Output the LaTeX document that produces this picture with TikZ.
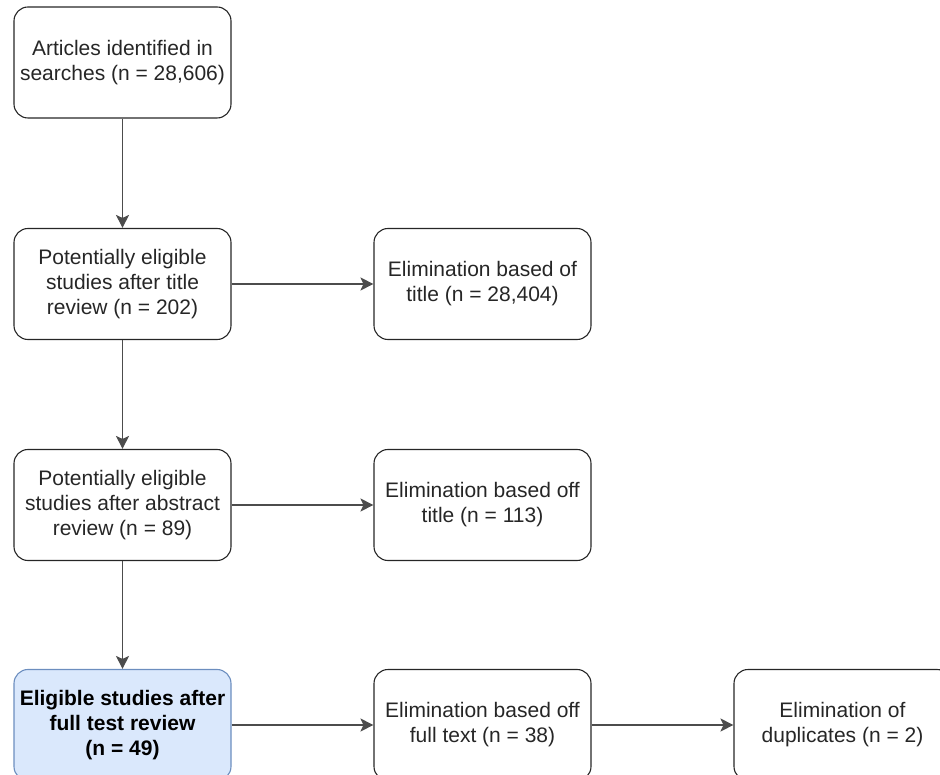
\documentclass[tikz,border=0pt]{standalone}
\usepackage{fontspec}
\setmainfont{Liberation Sans}
\usetikzlibrary{arrows.meta, positioning}
\definecolor{finalfill}{HTML}{DAE8FC}
\definecolor{finaldraw}{HTML}{6C8EBF}

\begin{document}
\begin{tikzpicture}[x=1pt,y=-1pt,
  box/.style={draw=black!85, line width=1.1pt, rounded corners=14pt, minimum width=217pt, minimum height=111pt, inner sep=2pt, align=center, text=black!85, font=\fontsize{21}{25}\selectfont},
  finalbox/.style={box, draw=finaldraw, fill=finalfill, text=black, font=\fontsize{21}{25}\selectfont\bfseries},
  flow/.style={draw=black!70, line width=1.3pt, -{Stealth[length=13pt,width=13pt,inset=3pt]}}]
\useasboundingbox (0,0) rectangle (940,775);
% Left column
\node[box] (search) at (122.5,62.5) {Articles identified in\\searches (n = 28,606)};
\node[box] (title) at (122.5,284) {Potentially eligible\\studies after title\\review (n = 202)};
\node[box] (abstract) at (122.5,505) {Potentially eligible\\studies after abstract\\review (n = 89)};
\node[finalbox] (eligible) at (122.5,725) {Eligible studies after\\full test review\\(n = 49)};
% Eliminations
\node[box] (elimtitle) at (482.5,284) {Elimination based of\\title (n = 28,404)};
\node[box] (elimabs) at (482.5,505) {Elimination based off\\title (n = 113)};
\node[box] (elimfull) at (482.5,725) {Elimination based off\\full text (n = 38)};
\node[box] (elimdup) at (842.5,725) {Elimination of\\duplicates (n = 2)};
% Connections
\draw[flow] (search) -- (title);
\draw[flow] (title) -- (abstract);
\draw[flow] (abstract) -- (eligible);
\draw[flow] (title) -- (elimtitle);
\draw[flow] (abstract) -- (elimabs);
\draw[flow] (eligible) -- (elimfull);
\draw[flow] (elimfull) -- (elimdup);
\end{tikzpicture}
\end{document}
